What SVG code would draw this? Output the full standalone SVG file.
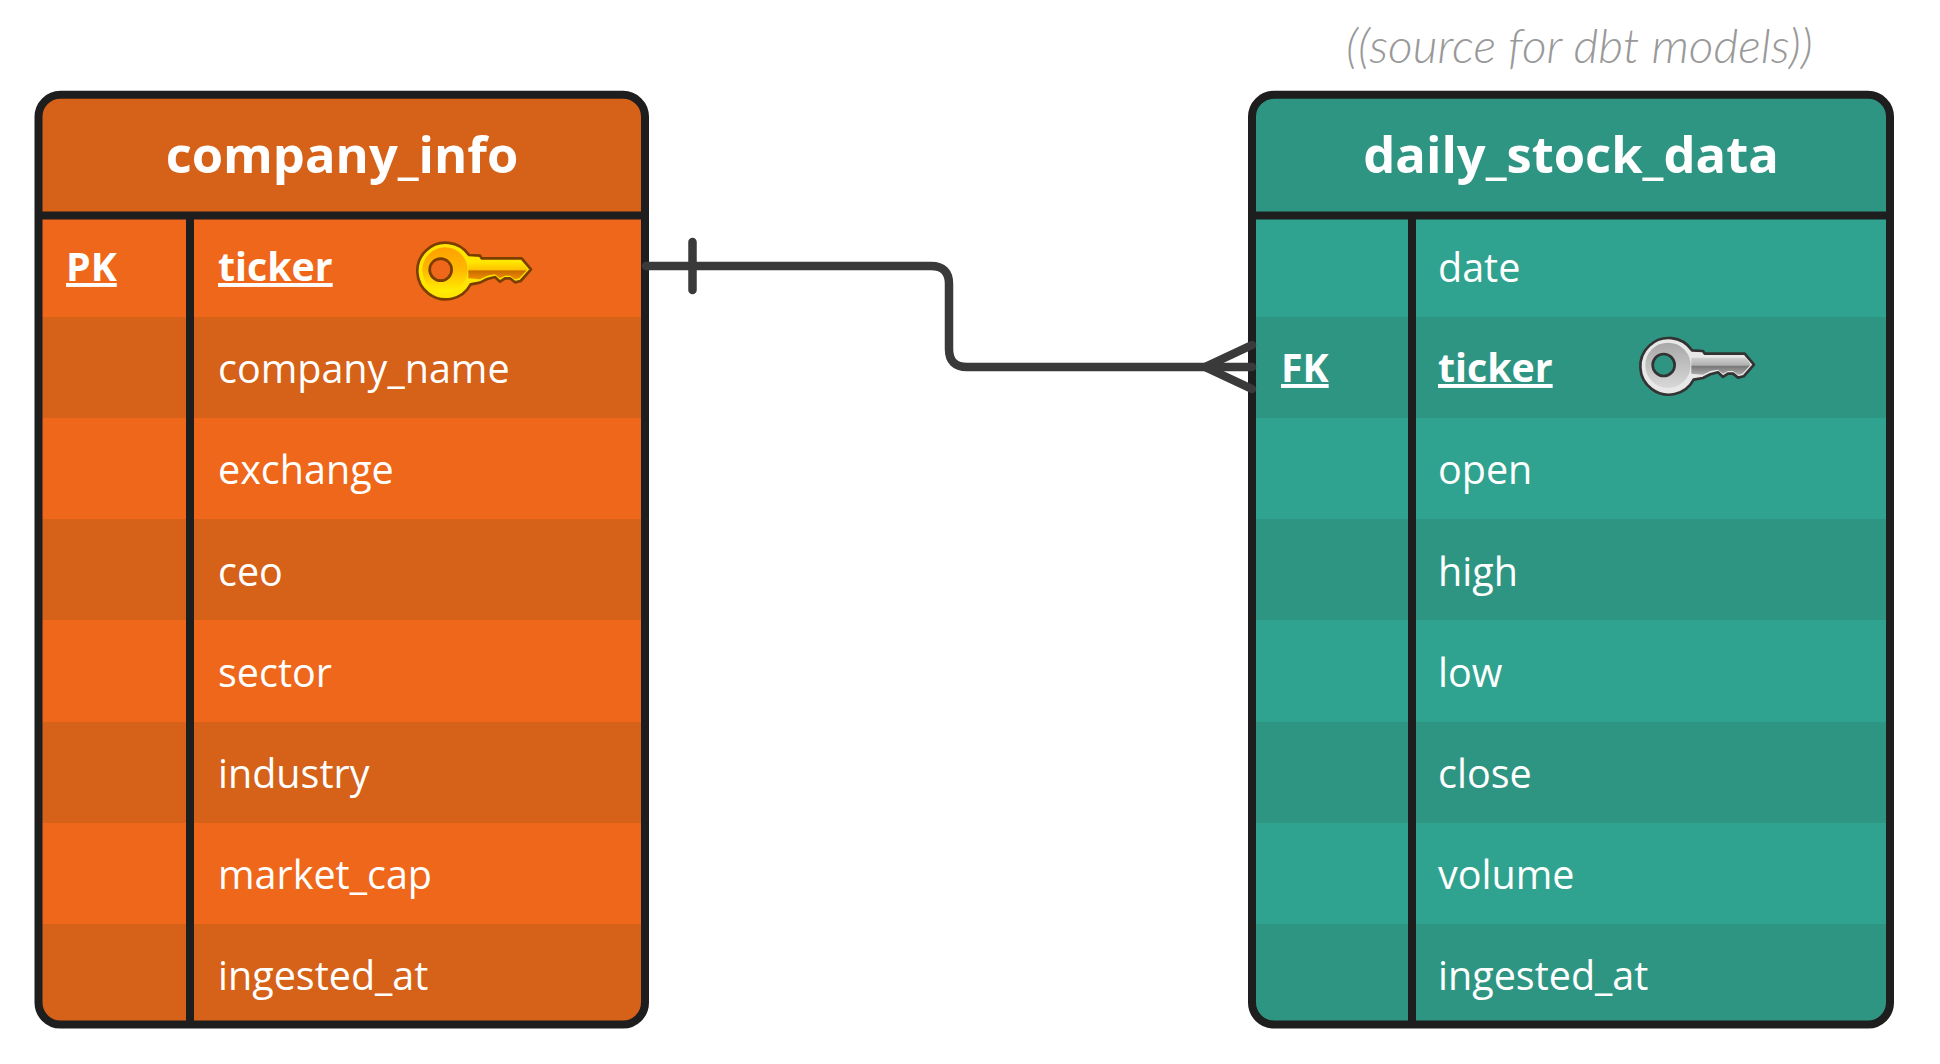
<svg xmlns="http://www.w3.org/2000/svg" width="1940" height="1064" viewBox="0 0 1940 1064">
<style>
text{font-family:"Open Sans","Noto Sans","DejaVu Sans",sans-serif;fill:#fff}
.title{font-size:50.7px;font-weight:700;text-anchor:middle}
.f{font-size:39.5px}
.k{font-size:39.3px;font-weight:700;text-decoration:underline}
.cap{font-family:"Lato","Open Sans",sans-serif;font-size:48px;font-style:italic;font-weight:300;fill:#999}
.frame{fill:none;stroke:#1e1e1e;stroke-width:8}
.line{stroke:#1e1e1e;stroke-width:8;fill:none}
.o1{fill:#ef671a}.o2{fill:#d66118}.t1{fill:#2fa390}.t2{fill:#2f9583}
.conn{fill:none;stroke:#3a3a3a;stroke-width:8.5;stroke-linecap:round;stroke-linejoin:round}
</style>
<defs>
<clipPath id="c1"><rect x="38.5" y="94.8" width="606.5" height="929.7" rx="22"/></clipPath>
<clipPath id="c2"><rect x="1252" y="94.8" width="638" height="929.7" rx="22"/></clipPath>
<linearGradient id="gy" x1="0" y1="0" x2="0" y2="1"><stop offset="0" stop-color="#ffa000"/><stop offset=".5" stop-color="#ffb800"/><stop offset="1" stop-color="#fff000"/></linearGradient>
<linearGradient id="gs" x1="0" y1="0" x2="0" y2="1"><stop offset="0" stop-color="#ffe600"/><stop offset=".45" stop-color="#ffc000"/><stop offset=".5" stop-color="#c86a00"/><stop offset="1" stop-color="#f09000"/></linearGradient>
<linearGradient id="sy" x1="0" y1="0" x2="0" y2="1"><stop offset="0" stop-color="#a8a8a8"/><stop offset="1" stop-color="#d8d8d8"/></linearGradient>
<linearGradient id="ss" x1="0" y1="0" x2="0" y2="1"><stop offset="0" stop-color="#d0d0d0"/><stop offset=".45" stop-color="#b0b0b0"/><stop offset=".5" stop-color="#777"/><stop offset="1" stop-color="#aaa"/></linearGradient>
<path id="keyshape" d="M207 90L240 92L245 100H365L393 133L362 168L345 172L330 160H315L300 170L285 156L262 162L240 173L212 178A85 85 0 1 1 207 90Z"/>
<path id="shaft" d="M205 112H368L383 133L358 160L345 163L330 152H315L300 160L285 148L262 152L240 163L205 160Z"/>
</defs>
<g id="company_info">
<g clip-path="url(#c1)">
<rect class="o2" x="38" y="94" width="608" height="122"/>
<rect class="o1" x="38" y="216" width="608" height="101"/>
<rect class="o2" x="38" y="317" width="608" height="101"/>
<rect class="o1" x="38" y="418" width="608" height="101"/>
<rect class="o2" x="38" y="519" width="608" height="101"/>
<rect class="o1" x="38" y="620" width="608" height="102"/>
<rect class="o2" x="38" y="722" width="608" height="101"/>
<rect class="o1" x="38" y="823" width="608" height="101"/>
<rect class="o2" x="38" y="924" width="608" height="104"/>
</g>
<rect class="frame" x="38.5" y="94.8" width="606.5" height="929.7" rx="22"/>
<path class="line" d="M38.5 215.5H645M190 215.5V1024"/>
<text class="title" x="342" y="173">company_info</text>
<text class="k" x="66" y="281">PK</text>
<text class="k" x="218" y="281">ticker</text>
<text class="f" x="218" y="383">company_name</text>
<text class="f" x="218" y="484.4">exchange</text>
<text class="f" x="218" y="585.6">ceo</text>
<text class="f" x="218" y="686.8">sector</text>
<text class="f" x="218" y="788">industry</text>
<text class="f" x="218" y="889.2">market_cap</text>
<text class="f" x="218" y="990.4">ingested_at</text>
<g id="key-primary" transform="translate(400 225) scale(.3333)">
<use href="#keyshape" fill="#ffe600" stroke="#7a3e00" stroke-width="8" stroke-linejoin="round"/>
<circle cx="135" cy="135" r="68" fill="url(#gy)"/>
<use href="#shaft" fill="url(#gs)"/>
<circle cx="122" cy="134" r="33" fill="#ef671a" stroke="#7a3e00" stroke-width="8"/>
</g>
</g>
<g id="daily_stock_data">
<g clip-path="url(#c2)">
<rect class="t2" x="1252" y="94" width="638" height="122"/>
<rect class="t1" x="1252" y="216" width="638" height="101"/>
<rect class="t2" x="1252" y="317" width="638" height="101"/>
<rect class="t1" x="1252" y="418" width="638" height="101"/>
<rect class="t2" x="1252" y="519" width="638" height="101"/>
<rect class="t1" x="1252" y="620" width="638" height="102"/>
<rect class="t2" x="1252" y="722" width="638" height="101"/>
<rect class="t1" x="1252" y="823" width="638" height="101"/>
<rect class="t2" x="1252" y="924" width="638" height="104"/>
</g>
<rect class="frame" x="1252" y="94.8" width="638" height="929.7" rx="22"/>
<path class="line" d="M1252 215.5H1890M1412 215.5V1024"/>
<text class="title" x="1571" y="173">daily_stock_data</text>
<text class="f" x="1438" y="282">date</text>
<text class="k" x="1281" y="382">FK</text>
<text class="k" x="1438" y="382">ticker</text>
<text class="f" x="1438" y="484.4">open</text>
<text class="f" x="1438" y="585.6">high</text>
<text class="f" x="1438" y="686.8">low</text>
<text class="f" x="1438" y="788">close</text>
<text class="f" x="1438" y="889.2">volume</text>
<text class="f" x="1438" y="990.4">ingested_at</text>
<g id="key-foreign" transform="translate(1623 320.3) scale(.3333)">
<use href="#keyshape" fill="#e8e8e8" stroke="#333" stroke-width="8" stroke-linejoin="round"/>
<circle cx="135" cy="135" r="68" fill="url(#sy)"/>
<use href="#shaft" fill="url(#ss)"/>
<circle cx="122" cy="134" r="33" fill="#2f9583" stroke="#333" stroke-width="8"/>
</g>
</g>
<text class="cap" x="1346" y="63">((source for dbt models))</text>
<g id="connectors">
<path class="conn" d="M646 266H931Q949 266 949 284V349Q949 367 967 367H1252"/>
<path class="conn" d="M692.5 242V290"/>
<path class="conn" d="M1252 345L1205 367L1252 389"/>
</g>
</svg>
